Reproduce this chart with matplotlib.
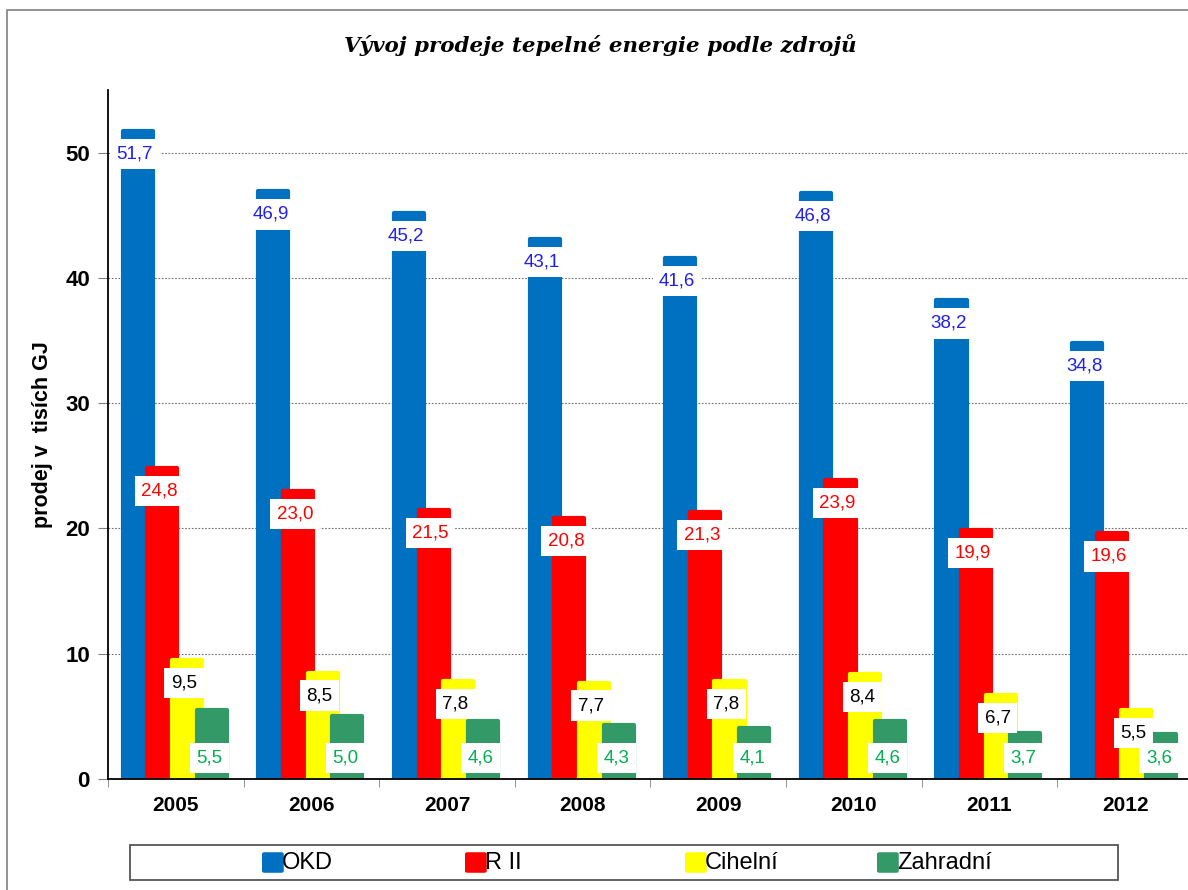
import numpy as np
import matplotlib
matplotlib.use('Agg')
from matplotlib import pyplot as plt
from matplotlib.patches import Rectangle, FancyBboxPatch

years = ['2005', '2006', '2007', '2008', '2009', '2010', '2011', '2012']
okd = [51.7, 46.9, 45.2, 43.1, 41.6, 46.8, 38.2, 34.8]
r2 = [24.8, 23.0, 21.5, 20.8, 21.3, 23.9, 19.9, 19.6]
cihelni = [9.5, 8.5, 7.8, 7.7, 7.8, 8.4, 6.7, 5.5]
zahradni = [5.5, 5.0, 4.6, 4.3, 4.1, 4.6, 3.7, 3.6]

names = ['OKD', 'R II', 'Cihelní', 'Zahradní']
series = [okd, r2, cihelni, zahradni]
colors = ['#0070C0', '#FF0000', '#FFFF00', '#339966']
txt_colors = ['#2020E8', '#FF0000', '#000000', '#00B050']

plt.rcParams['font.family'] = ['Liberation Sans', 'DejaVu Sans']

fig = plt.figure(figsize=(11.88, 8.9), dpi=100)
ax = fig.add_axes([0.0909, 0.1247, 0.9133, 0.7742])

x = np.arange(len(years))
step = 0.1817
width = 0.222
for i, (vals, c, tc) in enumerate(zip(series, colors, txt_colors)):
    pos = x + (i - 1.5) * step - 0.008
    bars = ax.bar(pos, vals, width=width, color=c, edgecolor=c, linewidth=3, zorder=2 + i)
    for b in bars:
        b.set_joinstyle('round')
    for p, v in zip(pos, vals):
        s = '{:.1f}'.format(v).replace('.', ',')
        if i == 3:
            # Zahradni labels sit at the bar base
            ax.annotate(s, xy=(p, 0), xytext=(-2, 21), textcoords='offset pixels',
                        ha='center', va='center', fontsize=13.5, color=tc, zorder=10,
                        bbox=dict(boxstyle='square,pad=0.35', fc='white', ec='none'))
        else:
            ax.annotate(s, xy=(p, v), xytext=(-3, -23), textcoords='offset pixels',
                        ha='center', va='center', fontsize=13.5, color=tc, zorder=10,
                        bbox=dict(boxstyle='square,pad=0.35', fc='white', ec='none'))

ax.set_xlim(-0.5, len(years) - 0.5)
ax.set_ylim(0, 55)
ax.set_yticks([0, 10, 20, 30, 40, 50])
ax.set_xticks(x)
ax.set_xticklabels(years, fontsize=15, fontweight='bold')
ax.tick_params(axis='x', length=0, pad=12)
ax.set_xticks(np.arange(len(years) + 1) - 0.5, minor=True)
ax.tick_params(axis='x', which='minor', length=6, direction='out', color='#808080')
ax.tick_params(axis='y', labelsize=16, length=7, color='#808080', pad=6)
for lab in ax.get_yticklabels():
    lab.set_fontweight('bold')
ax.grid(axis='y', linestyle=(0, (1.5, 1.5)), color='#707070', linewidth=0.8, zorder=0)
ax.spines['top'].set_visible(False)
ax.spines['right'].set_visible(False)
ax.spines['left'].set_linewidth(1.3)
ax.spines['bottom'].set_linewidth(1.3)
ax.spines['bottom'].set_zorder(8)
ax.set_ylabel('prodej v  tisích GJ', fontsize=15.5, fontweight='bold', labelpad=9)

fig.text(0.505, 0.949, 'Vývoj prodeje tepelné energie podle zdrojů', ha='center', va='center',
         fontsize=15.4, fontweight='bold', fontstyle='italic', family=['DejaVu Serif'])

# legend drawn by hand, Excel style
fig.patches.append(Rectangle((130 / 1188, 1 - 880 / 890), 988 / 1188, 35 / 890,
                             transform=fig.transFigure, fill=False, ec='#555555', lw=1.3))
leg_x = [262, 465, 685, 877]
for lx, name, c in zip(leg_x, names, colors):
    fig.patches.append(FancyBboxPatch((lx / 1188 + 0.002, 1 - 871 / 890), 17 / 1188, 17 / 890,
                                      boxstyle='round,pad=0.002', transform=fig.transFigure,
                                      fc=c, ec='none'))
    fig.text((lx + 20) / 1188, 1 - 863 / 890, name, ha='left', va='center', fontsize=17)

fig.patches.append(Rectangle((0.006, -0.01), 1.5, 0.999, transform=fig.transFigure,
                             fill=False, ec='#808080', lw=1.2))

plt.savefig('out.png', dpi=100)
